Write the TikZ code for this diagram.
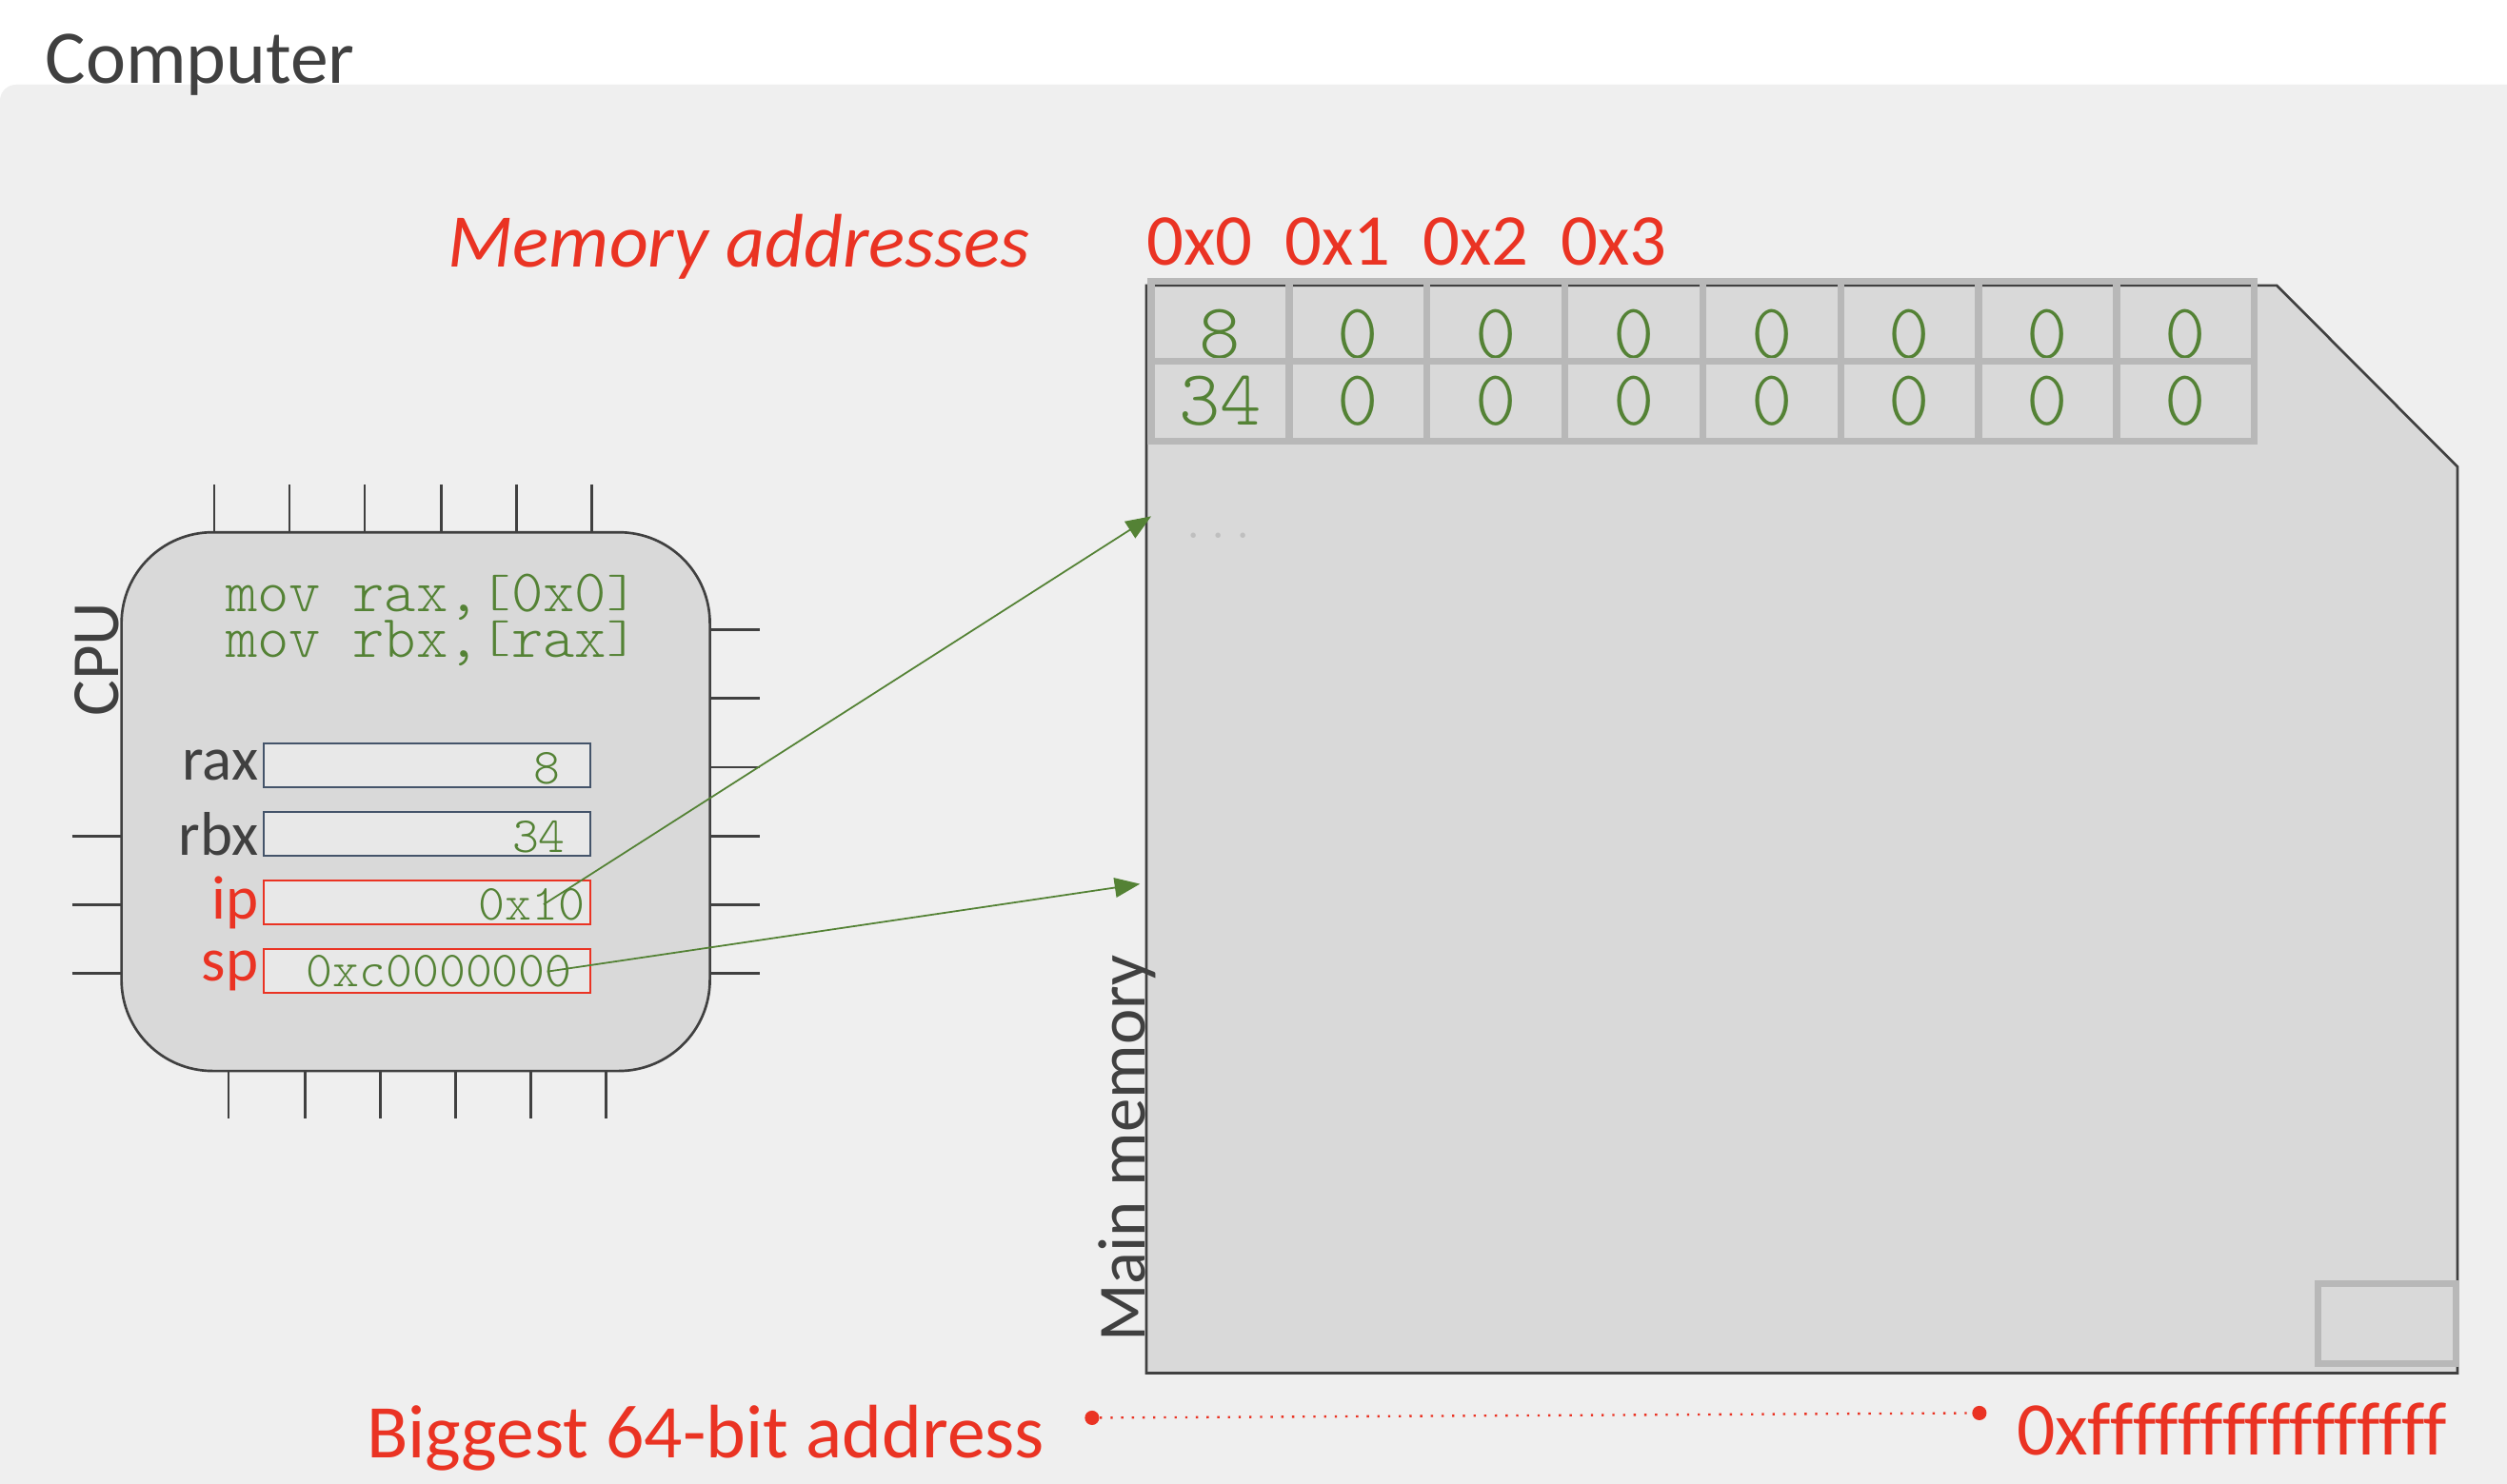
\documentclass[tikz,border=0pt]{standalone}
\usepackage{fontspec}
\setmainfont{Carlito}
\newfontfamily\codefont{lmmonolt10-regular.otf}
\usetikzlibrary{arrows.meta,positioning}

\definecolor{compbg}{HTML}{EFEFEF}
\definecolor{partfill}{HTML}{D9D9D9}
\definecolor{regfill}{HTML}{E8E8E8}
\definecolor{edgegray}{HTML}{404040}
\definecolor{cellgray}{HTML}{B8B8B8}
\definecolor{regblue}{HTML}{44546A}
\definecolor{addrred}{HTML}{EA3323}
\definecolor{codegreen}{HTML}{548235}
\definecolor{dotgray}{HTML}{BFBFBF}

\newcommand\lowbr[1]{\raisebox{0.08em}{\scalebox{1}[0.75]{#1}}}
\newcommand\tightlines{\lineskiplimit-30pt\relax}

\tikzset{
  cpupin/.style={draw=edgegray,line width=0.9pt},
  cpubox/.style={draw=edgegray,fill=partfill,line width=0.9pt,rounded corners=11.4mm,minimum width=73.6mm,minimum height=67.4mm},
  regbox/.style={fill=regfill,line width=0.7pt,minimum width=40.8mm,minimum height=5.5mm,inner sep=0pt},
  regname/.style={text=edgegray,font=\fontsize{22}{26}\selectfont,inner sep=0pt},
  regval/.style={text=codegreen,font=\codefont\fontsize{18}{20}\selectfont,inner sep=0pt,anchor=base east},
  codelines/.style={text=codegreen,font=\codefont\fontsize{21.5}{16.2}\selectfont\tightlines,inner sep=0pt,align=left},
  memcell/.style={draw=cellgray,line width=2.5pt,minimum width=17.25mm,minimum height=10mm,inner sep=0pt,text=codegreen,font=\codefont\fontsize{28}{30}\selectfont,text depth=0pt},
  pointer/.style={draw=codegreen,line width=0.6pt,-{Triangle[length=9pt,width=7pt]}},
  darktext/.style={text=edgegray,inner sep=0pt},
  redtext/.style={text=addrred,inner sep=0pt},
}

\begin{document}
\begin{tikzpicture}[x=0.2mm,y=-0.2mm]
      \useasboundingbox (0,0) rectangle (1568,928);
      \fill[white] (0,0) rectangle (1568,928);
      \fill[compbg,rounded corners=2mm] (0,53) rectangle (1600,960);
      \node[darktext,font=\fontsize{27}{32}\selectfont,anchor=base west] (computer) at (28,52) {Computer};

      \begin{scope}
        \foreach \x in {134,181,228,276,323,370} \draw[cpupin] (\x,303) -- (\x,333);
        \foreach \x in {143,191,238,285,332,379} \draw[cpupin] (\x,670) -- (\x,700);
        \foreach \y in {523,566,609} \draw[cpupin] (45,\y) -- (76,\y);
        \foreach \y in {394,437,480,523,566,609} \draw[cpupin] (444,\y) -- (475,\y);
        \node[cpubox] (cpu) at (260,501.5) {};
        \node[darktext,font=\fontsize{24}{28}\selectfont,rotate=90] (cpuname) at (60.5,412.5) {CPU};
        \node[codelines,anchor=north west] (code) at (141,359) {mov rax,\lowbr{[}0x0\lowbr{]}\\mov rbx,\lowbr{[}rax\lowbr{]}};

        \node[regbox,draw=regblue] (rax) at (267,478.75) {};
        \node[regbox,draw=regblue] (rbx) at (267,521.75) {};
        \node[regbox,draw=addrred] (ip) at (267,564.5) {};
        \node[regbox,draw=addrred] (sp) at (267,607.5) {};
        \node[regname,left=0.5mm of rax] (raxname) {rax};
        \node[regname,left=0.5mm of rbx] (rbxname) {rbx};
        \node[regname,text=addrred,left=0.5mm of ip] (ipname) {ip};
        \node[regname,text=addrred,left=0.5mm of sp] (spname) {sp};
        \node[regval] (raxval) at (351,490.5) {8};
        \node[regval] (rbxval) at (354,533) {34};
        \node[regval] (ipval) at (366,575.5) {0x10};
        \node[regval] (spval) at (358,617.5) {0xc0000000};
      \end{scope}

      \begin{scope}
        \draw[edgegray,fill=partfill,line width=0.9pt] (717,178.6) -- (1424,178.6) -- (1537,292) -- (1537,859) -- (717,859) -- cycle;
        \foreach \val [count=\i from 0] in {8,0,0,0,0,0,0,0}
          \node[memcell,text height=26.2pt] (cellA\i) at ({763.125+86.25*\i},201) {\val};
        \foreach \val [count=\i from 0] in {34,0,0,0,0,0,0,0}
          \node[memcell,text height=17pt] (cellB\i) at ({763.125+86.25*\i},251) {\val};
        \node[memcell] (lastcell) at (1493,828) {};
        \node[text=dotgray,font=\codefont\fontsize{17}{20}\selectfont,inner sep=0pt,anchor=base] (gap) at (762,337) {...};
        \node[darktext,font=\fontsize{24}{28}\selectfont,rotate=90,anchor=base west] (memname) at (716,840) {Main memory};
        \foreach \i in {0,...,3}
          \node[redtext,font=\fontsize{26}{30}\selectfont,anchor=base west] (addr\i) at ({717+86.25*\i},166) {0x\i};
        \node[redtext,font=\fontsize{27}{32}\selectfont\itshape,anchor=base west] (addrtitle) at (280,167) {Memory addresses};
      \end{scope}

      \coordinate (iptarget) at (720,323);
      \coordinate (sptarget) at (713,553);
      \draw[pointer] ([xshift=4.3pt]ipval.center) -- (iptarget);
      \draw[pointer] ([xshift=-9pt]spval.east) -- (sptarget);

      \node[redtext,font=\fontsize{27}{32}\selectfont,anchor=base west] (bigname) at (229,912) {Biggest 64-bit address};
      \node[circle,fill=addrred,inner sep=0pt,minimum size=1.8mm] (lowdot) at (683,887) {};
      \node[circle,fill=addrred,inner sep=0pt,minimum size=1.8mm] (highdot) at (1238,884) {};
      \draw[addrred,line width=0.8pt,dash pattern=on 0.8pt off 3pt] (lowdot) -- (highdot);
      \node[redtext,font={\fontsize{27}{32}\selectfont\addfontfeature{Ligatures=NoCommon}},anchor=base west] (bigaddr) at (1261,910) {0xffffffffffffffff};
\end{tikzpicture}
\end{document}
